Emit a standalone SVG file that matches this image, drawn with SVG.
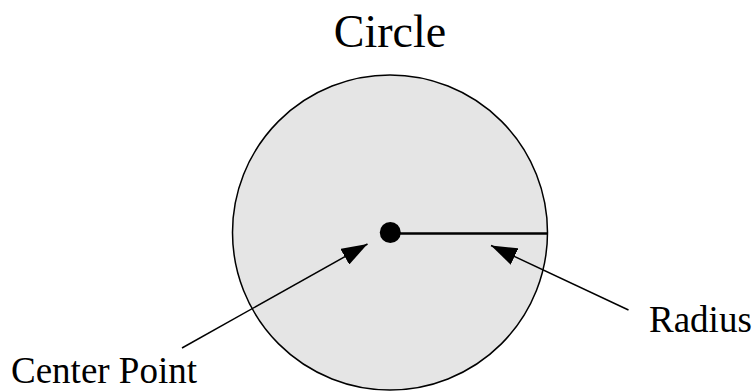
<svg xmlns="http://www.w3.org/2000/svg" width="755" height="391" viewBox="0 0 755 391">
<style>
.t{font-family:'Liberation Serif','DejaVu Serif',serif;fill:#000}
.lbl{font-size:37px}
.conn{stroke:#000;stroke-width:1.5;fill:none}
</style>
<defs>
<marker id="ah" viewBox="0 0 26 18" refX="26" refY="9" markerWidth="26" markerHeight="18" markerUnits="userSpaceOnUse" orient="auto">
<path d="M0,0 L26,9 L0,18 Z" fill="#000"/>
</marker>
</defs>
<rect width="755" height="391" fill="#fff"/>
<g id="title"><text class="t" font-family="Liberation Serif" x="390" y="47" font-size="46" text-anchor="middle">Circle</text></g>
<g id="circle">
<circle cx="390" cy="232.5" r="157.5" fill="#e5e5e5" stroke="#000" stroke-width="1.5"/>
<line x1="390" y1="233.5" x2="548" y2="233.5" stroke="#000" stroke-width="2.5"/>
<circle cx="390.3" cy="232.5" r="10.5" fill="#000"/>
</g>
<g id="center-label"><text class="t lbl" font-family="Liberation Serif" x="11" y="383">Center Point</text></g>
<g id="radius-label"><text class="t lbl" font-family="Liberation Serif" x="649" y="332">Radius</text></g>
<g id="connectors">
<line class="conn" x1="182" y1="348" x2="367.5" y2="244" marker-end="url(#ah)"/>
<line class="conn" x1="628.5" y1="310" x2="491" y2="245.5" marker-end="url(#ah)"/>
</g>
</svg>
